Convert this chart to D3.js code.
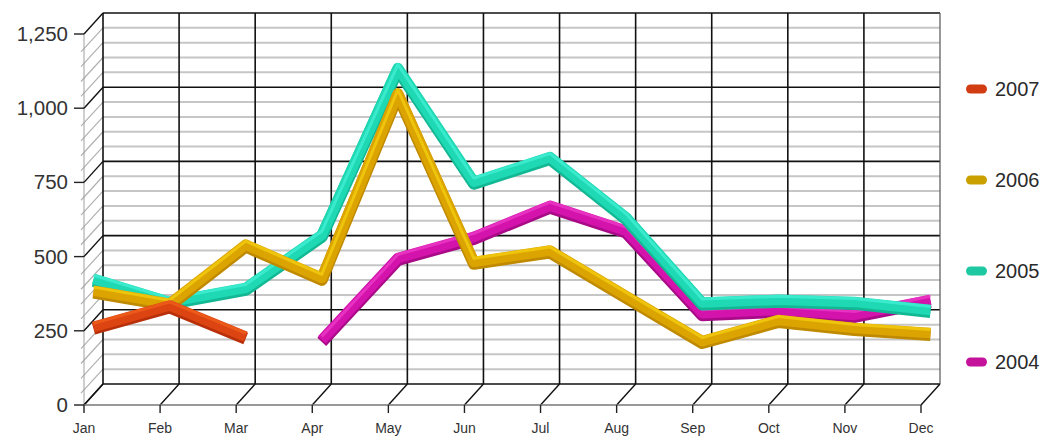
<!DOCTYPE html>
<html>
<head>
<meta charset="utf-8">
<script src="https://d3js.org/d3.v7.min.js"></script>
<style>
  body { margin: 0; background: #ffffff; }
  svg { display: block; }
</style>
</head>
<body>
<div id="chart"></div>
<script>

/****** DATA ******/
var months = ["Jan", "Feb", "Mar", "Apr", "May", "Jun", "Jul", "Aug", "Sep", "Oct", "Nov", "Dec"];
var years = ["2007", "2006", "2005", "2004"];
var yTicks = [0, 250, 500, 750, 1000, 1250];

var sales2007 = [228, 300, 195, null, null, null, null, null, null, null, null, null];
var sales2006 = [350, 306, 505, 393, 1015, 447, 485, 332, 180, 251, 224, 207];
var sales2005 = [390, 312, 359, 538, 1100, 717, 800, 597, 310, 319, 312, 285];
var sales2004 = [null, null, null, 184, 460, 531, 636, 552, 274, 285, 268, 319];

var lineColors = ["#dc4412", "#dca400", "#1fd8b4", "#d412ac"];
var edgeColors = ["#b8300a", "#c08a00", "#12b894", "#a80a88"];
var topColors = ["#f0601c", "#f4d010", "#44f0d4", "#ec3cc8"];
var swatchColors = ["#d23c12", "#c9a000", "#1ec8a0", "#c4129a"];

var series = [sales2007, sales2006, sales2005, sales2004];

var width = 1047, height = 438;
// depth of the 3d box (back wall offset)
var depthX = 19, depthY = -21;

var svg = d3.select("#chart")
  .append("svg")
  .attr("width", width)
  .attr("height", height);

/****** SCALES ******/
var x = d3.scalePoint()
  .domain(months)
  .range([84, 921]);

var y = d3.scaleLinear()
  .domain([0, 1250])
  .range([405, 34]);

var minorTicks = d3.range(0, 1251, 50);

/****** BACK WALL + SIDE WALL GRID ******/
var grid = svg.append("g");

// minor horizontal lines (back wall)
grid.selectAll(".minor")
  .data(minorTicks.filter(function(d) { return d % 250 != 0; }))
  .enter()
  .append("line")
    .attr("x1", x("Jan") + depthX)
    .attr("x2", x("Dec") + depthX)
    .attr("y1", function(d) { return y(d) + depthY; })
    .attr("y2", function(d) { return y(d) + depthY; })
    .style("stroke", "#c6c6c6")
    .style("stroke-width", 2);

// minor diagonals on side wall
grid.selectAll(".minorside")
  .data(minorTicks.filter(function(d) { return d % 250 != 0; }))
  .enter()
  .append("line")
    .attr("x1", x("Jan") - 3)
    .attr("y1", function(d) { return y(d) + 3; })
    .attr("x2", x("Jan") + depthX)
    .attr("y2", function(d) { return y(d) + depthY; })
    .style("stroke", "#b0b0b0")
    .style("stroke-width", 1.2);

// front edge of side wall
grid.append("line")
  .attr("x1", x("Jan")).attr("x2", x("Jan"))
  .attr("y1", y(1250)).attr("y2", y(0))
  .style("stroke", "#a0a0a0")
  .style("stroke-width", 1);

// major horizontal lines back wall
grid.selectAll(".major")
  .data(yTicks)
  .enter()
  .append("line")
    .attr("x1", x("Jan") + depthX)
    .attr("x2", x("Dec") + depthX)
    .attr("y1", function(d) { return y(d) + depthY; })
    .attr("y2", function(d) { return y(d) + depthY; })
    .style("stroke", "#111")
    .style("stroke-width", 1.6);

// major diagonals on side wall + y ticks
grid.selectAll(".majorside")
  .data(yTicks)
  .enter()
  .append("line")
    .attr("x1", x("Jan"))
    .attr("y1", function(d) { return y(d); })
    .attr("x2", x("Jan") + depthX)
    .attr("y2", function(d) { return y(d) + depthY; })
    .style("stroke", "#111")
    .style("stroke-width", 1.4);

grid.selectAll(".ytick")
  .data(yTicks)
  .enter()
  .append("line")
    .attr("x1", x("Jan") - 10)
    .attr("x2", x("Jan"))
    .attr("y1", function(d) { return y(d); })
    .attr("y2", function(d) { return y(d); })
    .style("stroke", "#222")
    .style("stroke-width", 1.4);

// vertical month lines on back wall
grid.selectAll(".vline")
  .data(months)
  .enter()
  .append("line")
    .attr("x1", function(d) { return x(d) + depthX; })
    .attr("x2", function(d) { return x(d) + depthX; })
    .attr("y1", y(1250) + depthY)
    .attr("y2", y(0) + depthY)
    .style("stroke", function(d) { return d == "Dec" ? "#555" : "#111"; })
    .style("stroke-width", function(d) { return d == "Dec" ? 1.2 : 1.6; });

// floor diagonals
grid.selectAll(".floor")
  .data(months)
  .enter()
  .append("line")
    .attr("x1", function(d) { return x(d); })
    .attr("y1", y(0))
    .attr("x2", function(d) { return x(d) + depthX; })
    .attr("y2", y(0) + depthY)
    .style("stroke", "#111")
    .style("stroke-width", 1.4);

// front floor edge
grid.append("line")
  .attr("x1", x("Jan")).attr("x2", x("Dec"))
  .attr("y1", y(0)).attr("y2", y(0))
  .style("stroke", "#777")
  .style("stroke-width", 1.4);

// month ticks
grid.selectAll(".xtick")
  .data(months)
  .enter()
  .append("line")
    .attr("x1", function(d) { return x(d); })
    .attr("x2", function(d) { return x(d); })
    .attr("y1", y(0))
    .attr("y2", y(0) + 8)
    .style("stroke", "#222")
    .style("stroke-width", 1.4);

/****** AXIS LABELS ******/
svg.selectAll(".ylabel")
  .data(yTicks)
  .enter()
  .append("text")
    .attr("x", 68)
    .attr("y", function(d) { return y(d) + 7; })
    .attr("text-anchor", "end")
    .style("font-family", "'Liberation Sans', Arial, sans-serif")
    .style("font-size", "20.5px")
    .style("fill", "#333")
    .text(function(d) { return d3.format(",")(d); });

svg.selectAll(".xlabel")
  .data(months)
  .enter()
  .append("text")
    .attr("x", function(d) { return x(d); })
    .attr("y", 433)
    .attr("text-anchor", "middle")
    .style("font-family", "'Liberation Sans', Arial, sans-serif")
    .style("font-size", "14px")
    .style("fill", "#333")
    .text(function(d) { return d; });

/****** LINES (drawn back to front) ******/
var midX = depthX / 2, midY = depthY / 2;

function makeLine(dy) {
  return d3.line()
    .defined(function(d) { return d != null; })
    .x(function(d, i) { return x(months[i]) + midX; })
    .y(function(d) { return y(d) + midY + dy; });
}

var order = [3, 2, 1, 0];
order.forEach(function(k) {
  var g = svg.append("g");
  g.append("path")
    .datum(series[k])
    .attr("d", makeLine(2))
    .style("fill", "none")
    .style("stroke", edgeColors[k])
    .style("stroke-width", 12)
    .style("stroke-linejoin", "round");
  g.append("path")
    .datum(series[k])
    .attr("d", makeLine(0))
    .style("fill", "none")
    .style("stroke", lineColors[k])
    .style("stroke-width", 10.5)
    .style("stroke-linejoin", "round");
  g.append("path")
    .datum(series[k])
    .attr("d", makeLine(-3.5))
    .style("fill", "none")
    .style("stroke", topColors[k])
    .style("stroke-width", 3)
    .style("stroke-linejoin", "round")
    .style("opacity", 0.75);
});

/****** LEGEND ******/
var legend = svg.selectAll(".legend")
  .data(years)
  .enter()
  .append("g")
    .attr("transform", function(d, i) { return "translate(966," + (89 + i * 91) + ")"; });

legend.append("rect")
  .attr("x", 0)
  .attr("y", -4.5)
  .attr("width", 21)
  .attr("height", 9)
  .attr("rx", 4.5)
  .style("fill", function(d, i) { return swatchColors[i]; });

legend.append("text")
  .attr("x", 29)
  .attr("y", 7)
  .style("font-family", "'Liberation Sans', Arial, sans-serif")
  .style("font-size", "20px")
  .style("fill", "#2a2a2a")
  .text(function(d) { return d; });

</script>
</body>
</html>
